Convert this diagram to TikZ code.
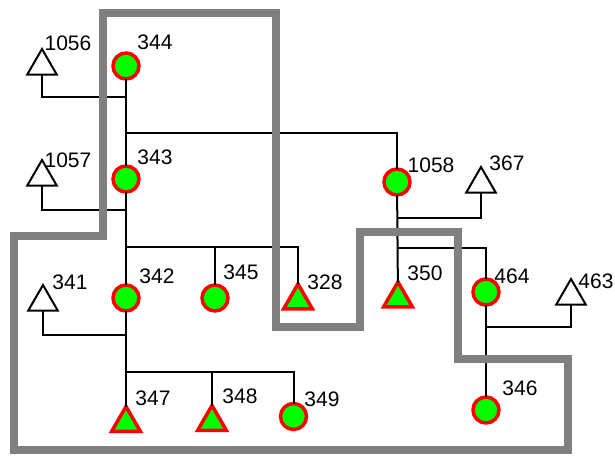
\documentclass[tikz,border=0pt]{standalone}
\usepackage{fontspec}
\setmainfont{Liberation Sans}
\usetikzlibrary{shapes.geometric}
\begin{document}
\begin{tikzpicture}[x=1pt,y=-1pt,
  rc/.style={circle,draw=red,fill=green,line width=3.5pt,minimum size=26pt,inner sep=0pt,outer sep=0pt},
  rt/.style={regular polygon,regular polygon sides=3,draw=red,fill=green,line width=3.5pt,minimum size=33pt,inner sep=0pt,outer sep=0pt},
  wt/.style={regular polygon,regular polygon sides=3,draw=black,fill=white,line width=2pt,minimum size=34pt,inner sep=0pt,outer sep=0pt},
  lbl/.style={inner sep=0pt,font=\fontsize{21}{24}\selectfont},
  wire/.style={line width=2pt,draw=black},
  zone/.style={line width=8pt,draw=gray}]
\useasboundingbox (0,0) rectangle (615,455);
% circles
\node[rc] (n344) at (126,66) {};
\node[rc] (n343) at (126,179) {};
\node[rc] (n1058) at (397,182) {};
\node[rc] (n342) at (126,298) {};
\node[rc] (n345) at (215,298) {};
\node[rc] (n349) at (293.5,416.5) {};
\node[rc] (n464) at (486,292) {};
\node[rc] (n346) at (486,410) {};
% red triangles
\node[rt] (t328) at (298,300.5) {};
\node[rt] (t350) at (398,298.5) {};
\node[rt] (t347) at (126,423) {};
\node[rt] (t348) at (212,422) {};
% white triangles
\node[wt] (t1056) at (42,66) {};
\node[wt] (t1057) at (42,177) {};
\node[wt] (t341) at (43,302) {};
\node[wt] (t367) at (481,184) {};
\node[wt] (t463) at (571,296) {};
% labels
\node[lbl] (l1056) at (68,43) {1056};
\node[lbl] (l344) at (155,42) {344};
\node[lbl] (l1057) at (68,160.5) {1057};
\node[lbl] (l343) at (155,157.5) {343};
\node[lbl] (l1058) at (431,165) {1058};
\node[lbl] (l367) at (507,163) {367};
\node[lbl] (l342) at (157,276) {342};
\node[lbl] (l345) at (241,272) {345};
\node[lbl] (l328) at (325,282.5) {328};
\node[lbl] (l350) at (425,273) {350};
\node[lbl] (l464) at (512,276) {464};
\node[lbl] (l463) at (596,281) {463};
\node[lbl] (l341) at (70,282) {341};
\node[lbl] (l347) at (153,398) {347};
\node[lbl] (l348) at (240,396) {348};
\node[lbl] (l349) at (322,399) {349};
\node[lbl] (l346) at (520,388) {346};
% junctions
\coordinate (j1) at (126,97);
\coordinate (j2) at (126,133);
\coordinate (j3) at (126,210);
\coordinate (j4) at (126,247);
\coordinate (j5) at (126,335);
\coordinate (j6) at (126,372);
\coordinate (k1) at (397,218);
\coordinate (k2) at (397,248);
\coordinate (k3) at (486,327);
% wires
\draw[wire] (n344) -- (n343);
\draw[wire] (j1) -| (t1056.south);
\draw[wire] (j2) -| (n1058);
\draw[wire] (j3) -| (t1057.south);
\draw[wire] (n343) -- (n342);
\draw[wire] (j4) -| (n345);
\draw[wire] (j4) -| (t328);
\draw[wire] (j5) -| (t341.south);
\draw[wire] (n342) -- (t347);
\draw[wire] (j6) -| (t348);
\draw[wire] (j6) -| (n349);
\draw[wire] (n1058) -- (t350);
\draw[wire] (k1) -| (t367.south);
\draw[wire] (k2) -| (n464);
\draw[wire] (n464) -- (n346);
\draw[wire] (k3) -| (t463.south);
% zone outline
\draw[zone] (103,13) -- (276,13) -- (276,327) -- (360,327) -- (360,232) -- (458,232) -- (458,359) -- (568,359) -- (568,450) -- (14,450) -- (14,236) -- (103,236) -- cycle;
\end{tikzpicture}
\end{document}
